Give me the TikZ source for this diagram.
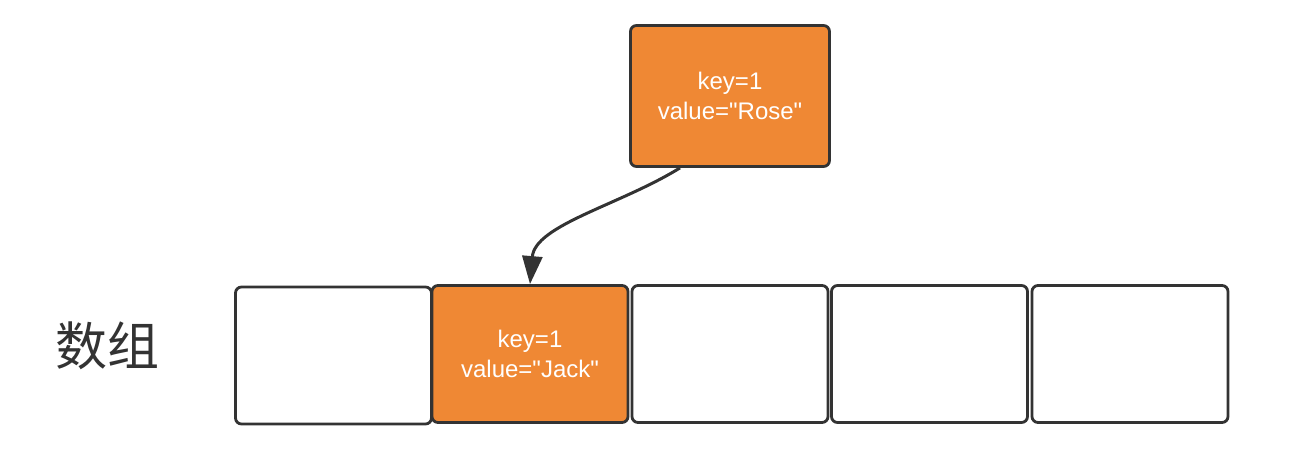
\documentclass[tikz,border=0pt]{standalone}
\usepackage{fontspec}
\setmainfont{Liberation Sans}
\newfontfamily\cjk{Noto Sans CJK SC}
\usetikzlibrary{arrows.meta}
\definecolor{boxorange}{RGB}{239,136,52}
\definecolor{linegray}{RGB}{51,51,51}
\tikzset{
  cell/.style={draw=linegray, line width=2.8pt, rounded corners=6pt, fill=white,
    minimum width=196pt, minimum height=137pt, inner sep=0pt, anchor=center},
  hot/.style={cell, fill=boxorange, text=white, align=center,
    font=\fontsize{24}{30}\selectfont},
  link/.style={draw=linegray, line width=3pt, -{Triangle[length=28pt,width=20pt]}}
}
\begin{document}
\begin{tikzpicture}[x=1pt,y=-1pt]
\useasboundingbox (0,0) rectangle (1292,462);
\node[cell] (c1) at (333.5,355.5) {};
\node[hot] (c2) at (530,354) {key=1\\value=\textquotedbl Jack\textquotedbl};
\node[cell] (c3) at (730,354) {};
\node[cell] (c4) at (929.5,354) {};
\node[cell] (c5) at (1130,354) {};
\node[hot, minimum width=199pt, minimum height=141pt] (top) at (730,96) {key=1\\value=\textquotedbl Rose\textquotedbl};
\node[text=linegray, font=\cjk\fontsize{52}{52}\selectfont, inner sep=0pt] (lbl) at (107,346) {数组};
\draw[link] (top.south -| 680,0) .. controls (620,205) and (535,225) .. (c2.north);
\end{tikzpicture}
\end{document}
